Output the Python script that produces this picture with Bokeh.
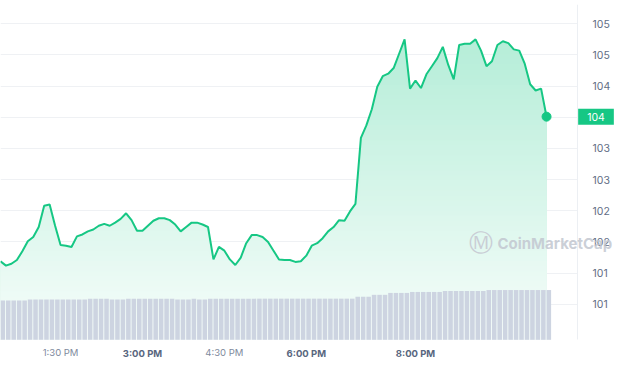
import numpy as np
from bokeh.plotting import figure
from bokeh.models import (ColumnDataSource, Range1d, FixedTicker, Label, LabelSet)
from bokeh.embed import file_html
from bokeh.resources import INLINE
from bokeh.core.properties import value

# ---------------- data ----------------
start_hour = 12.4          # 12:24 PM, samples every 6 minutes
step_hours = 0.1

price = [101.39, 101.32, 101.35, 101.41, 101.55, 101.71, 101.78, 101.94, 102.28, 102.30,
         101.96, 101.65, 101.64, 101.62, 101.79, 101.82, 101.87, 101.90, 101.96, 101.99,
         101.96, 102.01, 102.07, 102.16, 102.05, 101.88, 101.88, 101.96, 102.04, 102.08,
         102.08, 102.05, 101.98, 101.87, 101.94, 102.01, 102.01, 101.98, 101.94, 101.42,
         101.62, 101.56, 101.42, 101.33, 101.45, 101.68, 101.81, 101.81, 101.78, 101.70,
         101.56, 101.42, 101.41, 101.41, 101.38, 101.39, 101.48, 101.64, 101.68, 101.76,
         101.87, 101.94, 102.05, 102.04, 102.19, 102.31, 103.37, 103.57, 103.83, 104.19,
         104.36, 104.40, 104.49, 104.72, 104.95, 104.16, 104.29, 104.17, 104.39, 104.52,
         104.65, 104.83, 104.54, 104.31, 104.86, 104.88, 104.88, 104.95, 104.77, 104.52,
         104.60, 104.86, 104.92, 104.89, 104.79, 104.77, 104.56, 104.23, 104.13, 104.16,
         103.71]

volume = [410, 410, 410, 410, 410, 420, 420, 420, 420, 420,
          420, 420, 420, 420, 420, 420, 430, 430, 430, 430,
          420, 420, 420, 430, 430, 430, 430, 430, 430, 430,
          430, 430, 420, 420, 420, 430, 420, 420, 430, 430,
          430, 430, 430, 430, 430, 430, 430, 430, 430, 430,
          430, 430, 430, 430, 430, 430, 430, 430, 430, 430,
          430, 430, 430, 430, 430, 450, 450, 450, 470, 470,
          470, 490, 490, 490, 490, 500, 500, 500, 500, 500,
          500, 510, 510, 510, 510, 510, 510, 510, 510, 520,
          520, 520, 520, 520, 520, 520, 520, 520, 520, 520,
          520]

y_ticks = [100.7, 101.2, 101.7, 102.2, 102.7, 103.2, 103.7, 104.2, 104.7, 105.2]
y_tick_labels = ["101", "101", "102", "102", "103", "103", "104", "104", "105", "105"]

x_ticks = [13.5, 15.0, 16.5, 18.0, 20.0]
x_tick_labels = ["1:30 PM", "3:00 PM", "4:30 PM", "6:00 PM", "8:00 PM"]
x_tick_bold = [False, True, False, True, True]

current_label = "104"
watermark = "CoinMarketCap"

# ---------------- layout / styling ----------------
GREEN = "#16c784"
FONT = "Inter"

n = len(price)
hours = start_hour + step_hours * np.arange(n)
price_arr = np.array(price)

W, H, TOP = 614, 364, 4
h_per_px = (634 / 60) / 577          # time span of the plotting area
p_per_px = 5.375 / 335               # price per pixel
x_lo = start_hour
x_axis_pos = start_hour + 634 / 60   # right price axis location
x_hi = x_lo + W * h_per_px
y_hi = 105.51
y_base = 100.13                      # bottom of the plotting area
y_lo = y_hi - (H - TOP) * p_per_px

p = figure(width=W, height=H, x_range=Range1d(x_lo, x_hi),
           y_range=Range1d(y_lo, y_hi), y_axis_location="right",
           output_backend="svg", toolbar_location=None,
           min_border_left=0, min_border_top=TOP, min_border_bottom=0,
           min_border_right=0)
p.outline_line_color = None
p.background_fill_color = "white"
p.border_fill_color = "white"

# gradient area under the line (stacked bands, top colour drawn first)
levels = np.linspace(y_base + 0.05, price_arr.max(), 60)[::-1]
for lv in levels:
    f = (lv - y_base) / (105.2 - y_base)
    a = 0.03 + 0.30 * f
    r = int(round(255 * (1 - a) + 0x16 * a))
    g = int(round(255 * (1 - a) + 0xc7 * a))
    b = int(round(255 * (1 - a) + 0x84 * a))
    p.varea(x=hours, y1=np.full(n, y_base), y2=np.minimum(price_arr, lv),
            fill_color=f"#{r:02x}{g:02x}{b:02x}", fill_alpha=1.0)

# volume bars on their own scale (0 sits on the plot baseline)
vol_per_px = 3500 / 335
p.extra_y_ranges = {"vol": Range1d(-(y_base - y_lo) / p_per_px * vol_per_px,
                                   (y_hi - y_base) / p_per_px * vol_per_px)}
vsrc = ColumnDataSource(dict(x=hours + 2.5 / 60, top=volume))
p.vbar(x="x", top="top", bottom=0, width=5 / 60, source=vsrc,
       y_range_name="vol", fill_color="#cdd4e1", line_color=None)

# price line and last point
p.line(hours, price_arr, line_color=GREEN, line_width=2)
p.scatter([hours[-1]], [price_arr[-1]], size=9, color=GREEN)

# y axis (right, fixed at the end of the plotting area)
yax = p.yaxis[0]
yax.fixed_location = x_axis_pos
yax.bounds = (y_base, y_hi)
yax.ticker = FixedTicker(ticks=y_ticks)
yax.major_label_overrides = {t: l for t, l in zip(y_ticks, y_tick_labels)}
yax.axis_line_color = "#eceff3"
yax.major_tick_line_color = None
yax.minor_tick_line_color = None
yax.major_label_text_font = FONT
yax.major_label_text_font_size = "10.5px"
yax.major_label_text_color = "#616e85"
yax.major_label_standoff = 9
p.ygrid.ticker = FixedTicker(ticks=y_ticks)
p.ygrid.grid_line_color = "#eff1f4"
try:
    p.ygrid.cross_bounds = (x_lo, x_axis_pos)
except Exception:
    pass
p.xgrid.visible = False

# x axis (fixed on the baseline): regular labels on the axis, bold ones as labels
xax = p.xaxis[0]
xax.fixed_location = y_base
xax.ticker = FixedTicker(ticks=x_ticks)
xax.major_label_overrides = {t: (l if not b else "") for t, l, b in
                             zip(x_ticks, x_tick_labels, x_tick_bold)}
xax.axis_line_color = None
xax.major_tick_line_color = None
xax.minor_tick_line_color = None
xax.major_label_text_font = FONT
xax.major_label_text_font_size = "9.5px"
xax.major_label_text_color = "#808a9d"
xax.major_label_standoff = 1

label_y = y_base - 13.5 * p_per_px
bold_src = ColumnDataSource(dict(
    x=[t for t, b in zip(x_ticks, x_tick_bold) if b],
    text=[l for l, b in zip(x_tick_labels, x_tick_bold) if b]))
p.add_layout(LabelSet(x="x", y=label_y, text="text",
                      source=bold_src, text_align="center",
                      text_baseline="middle", text_font=value(FONT),
                      text_font_size="9.5px", text_font_style="bold",
                      text_color="#58667e"))

# watermark
wm_y = 101.68
p.add_layout(Label(x=21.198, y=wm_y, text="\u24c2", text_font="DejaVu Sans",
                   text_font_size="24px", text_color="#c9cdd5",
                   text_align="center", text_baseline="middle"))
p.add_layout(Label(x=21.50, y=wm_y, text=watermark, text_font=FONT,
                   text_font_size="15px", text_font_style="bold",
                   text_color="#c2c7d0", text_alpha=0.85,
                   text_baseline="middle"))

# current price tag on the axis
p.add_layout(Label(x=x_axis_pos, y=price[-1], x_offset=18.5, text=current_label,
                   text_align="center", text_baseline="middle",
                   text_font=FONT, text_font_size="10.5px",
                   text_color="white", background_fill_color=GREEN,
                   padding=dict(left=9, right=9, top=4, bottom=4)))

open("out.html", "w").write(file_html(p, INLINE))
